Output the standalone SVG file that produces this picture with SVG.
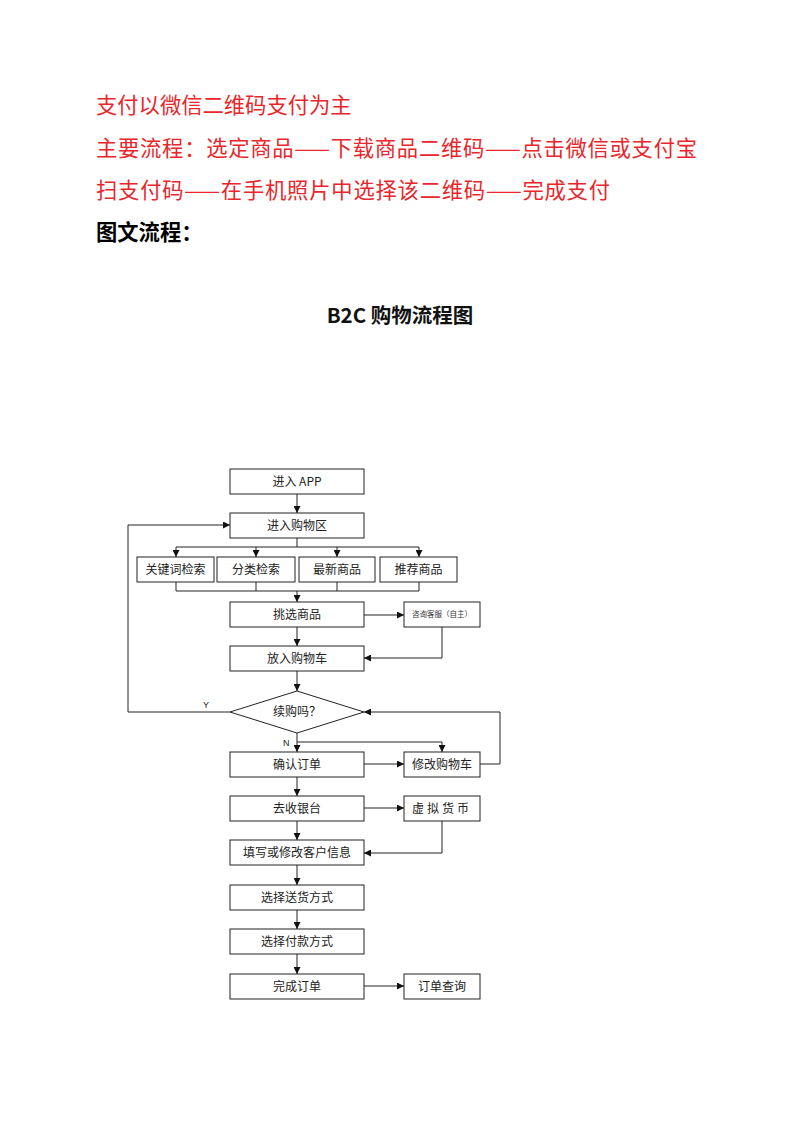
<svg xmlns="http://www.w3.org/2000/svg" width="800" height="1132" viewBox="0 0 800 1132">
<style>
.red{font-family:"Noto Sans CJK SC",sans-serif;font-size:21.3px;fill:#e8262b}
.hd{font-family:"Noto Sans CJK SC",sans-serif;font-size:21.3px;fill:#000;font-weight:bold}
.title{font-family:"Noto Sans CJK SC",sans-serif;font-size:20.5px;font-weight:bold;fill:#111}
.box{fill:#fff;stroke:#222;stroke-width:1}
.t{font-family:"Noto Sans CJK SC",sans-serif;font-size:12px;fill:#222;text-anchor:middle}
.ts{font-family:"Noto Sans CJK SC",sans-serif;font-size:7.5px;fill:#333;text-anchor:middle}
.l{font-family:"Liberation Sans",sans-serif;font-size:9px;fill:#222}
.c{fill:none;stroke:#222;stroke-width:1}
</style>
<defs>
<marker id="a" viewBox="0 0 10 10" refX="10" refY="5" markerWidth="7" markerHeight="7" orient="auto" markerUnits="userSpaceOnUse"><path d="M0,0 L10,5 L0,10 z" fill="#111"/></marker>
</defs>
<rect width="800" height="1132" fill="#fff"/>
<text class="red" x="96" y="113">支付以微信二维码支付为主</text>
<text class="red" x="96" y="156" textLength="601">主要流程：选定商品——下载商品二维码——点击微信或支付宝</text>
<text class="red" x="96" y="198" textLength="514">扫支付码——在手机照片中选择该二维码——完成支付</text>
<text class="hd" x="96" y="240">图文流程：</text>
<text class="title" x="400" y="323" text-anchor="middle">B2C 购物流程图</text>

<g id="connectors">
<path class="c" d="M297,494 V513" marker-end="url(#a)"/>
<path class="c" d="M297,538 V547 M176,547 H419"/>
<path class="c" d="M176,547 V557" marker-end="url(#a)"/>
<path class="c" d="M256,547 V557" marker-end="url(#a)"/>
<path class="c" d="M337,547 V557" marker-end="url(#a)"/>
<path class="c" d="M419,547 V557" marker-end="url(#a)"/>
<path class="c" d="M176,582 V591 H419 M256,582 V591 M337,582 V591 M419,582 V591"/>
<path class="c" d="M297,591 V602" marker-end="url(#a)"/>
<path class="c" d="M364,615 H404" marker-end="url(#a)"/>
<path class="c" d="M442,627 V658 H364" marker-end="url(#a)"/>
<path class="c" d="M297,627 V646" marker-end="url(#a)"/>
<path class="c" d="M297,671 V691" marker-end="url(#a)"/>
<path class="c" d="M230,712 H128 V525 H230" marker-end="url(#a)"/>
<path class="c" d="M480,764 H500 V712 H364" marker-end="url(#a)"/>
<path class="c" d="M297,733 V752" marker-end="url(#a)"/>
<path class="c" d="M297,742 H442 V752" marker-end="url(#a)"/>
<path class="c" d="M364,764 H404" marker-end="url(#a)"/>
<path class="c" d="M297,777 V796" marker-end="url(#a)"/>
<path class="c" d="M364,808 H404" marker-end="url(#a)"/>
<path class="c" d="M442,821 V853 H364" marker-end="url(#a)"/>
<path class="c" d="M297,821 V840" marker-end="url(#a)"/>
<path class="c" d="M297,865 V885" marker-end="url(#a)"/>
<path class="c" d="M297,910 V929" marker-end="url(#a)"/>
<path class="c" d="M297,954 V974" marker-end="url(#a)"/>
<path class="c" d="M364,986 H404" marker-end="url(#a)"/>
<text class="l" x="203" y="708">Y</text>
<text class="l" x="283" y="746">N</text>
</g>

<g id="n_app"><rect class="box" x="230" y="469" width="134" height="25"/><text class="t" x="297" y="486">进入 APP</text></g>
<g id="n_area"><rect class="box" x="230" y="513" width="134" height="25"/><text class="t" x="297" y="530">进入购物区</text></g>
<g id="n_kw"><rect class="box" x="137" y="557" width="77" height="25"/><text class="t" x="175.5" y="574">关键词检索</text></g>
<g id="n_cat"><rect class="box" x="217" y="557" width="78" height="25"/><text class="t" x="256" y="574">分类检索</text></g>
<g id="n_new"><rect class="box" x="299" y="557" width="76" height="25"/><text class="t" x="337" y="574">最新商品</text></g>
<g id="n_rec"><rect class="box" x="380" y="557" width="77" height="25"/><text class="t" x="418.5" y="574">推荐商品</text></g>
<g id="n_pick"><rect class="box" x="230" y="602" width="134" height="25"/><text class="t" x="297" y="619">挑选商品</text></g>
<g id="n_cs"><rect class="box" x="404" y="602" width="76" height="25"/><text class="ts" x="442" y="617">咨询客服（自主）</text></g>
<g id="n_cart"><rect class="box" x="230" y="646" width="134" height="25"/><text class="t" x="297" y="663">放入购物车</text></g>
<g id="n_cont"><polygon class="box" points="297,691 364,712 297,733 230,712"/><text class="t" x="297" y="716">续购吗？</text></g>
<g id="n_confirm"><rect class="box" x="230" y="752" width="134" height="25"/><text class="t" x="297" y="769">确认订单</text></g>
<g id="n_modcart"><rect class="box" x="404" y="752" width="76" height="25"/><text class="t" x="442" y="769">修改购物车</text></g>
<g id="n_cashier"><rect class="box" x="230" y="796" width="134" height="25"/><text class="t" x="297" y="813">去收银台</text></g>
<g id="n_virtual"><rect class="box" x="404" y="796" width="76" height="25"/><text class="t" x="442" y="813" letter-spacing="3">虚拟货币</text></g>
<g id="n_info"><rect class="box" x="230" y="840" width="134" height="25"/><text class="t" x="297" y="857">填写或修改客户信息</text></g>
<g id="n_ship"><rect class="box" x="230" y="885" width="134" height="25"/><text class="t" x="297" y="902">选择送货方式</text></g>
<g id="n_pay"><rect class="box" x="230" y="929" width="134" height="25"/><text class="t" x="297" y="946">选择付款方式</text></g>
<g id="n_done"><rect class="box" x="230" y="974" width="134" height="25"/><text class="t" x="297" y="991">完成订单</text></g>
<g id="n_query"><rect class="box" x="404" y="974" width="76" height="25"/><text class="t" x="442" y="991">订单查询</text></g>
</svg>
